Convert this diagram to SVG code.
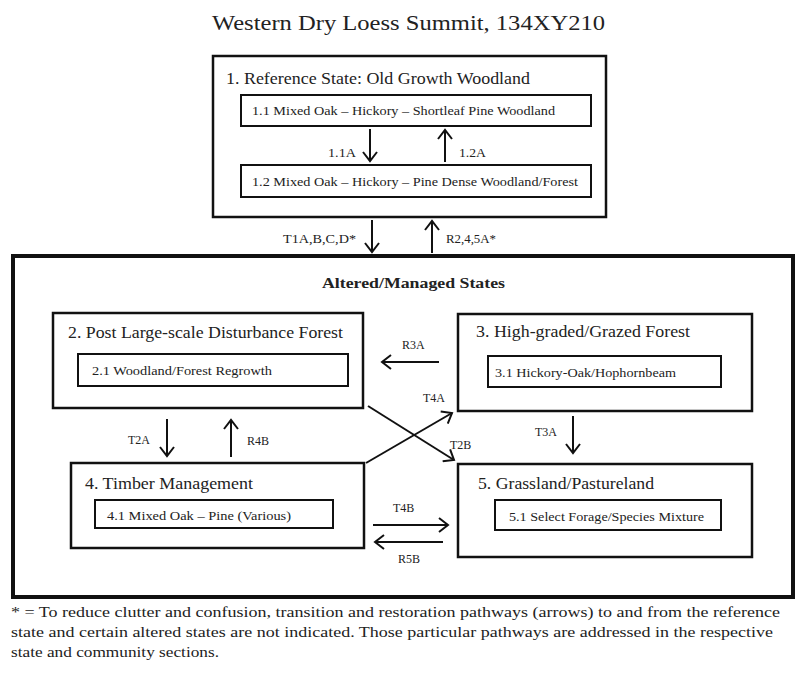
<svg xmlns="http://www.w3.org/2000/svg" width="800" height="680" viewBox="0 0 800 680" font-family="'Liberation Serif', 'DejaVu Serif', serif">
<defs>
<style>
text{font-family:'Liberation Serif','DejaVu Serif',serif;fill:#222}
.title{font-size:22px}
.st{font-size:17px}
.sub{font-size:13px}
.lbl{font-size:12px}
.box{fill:#fff;stroke:#111;stroke-width:2.5}
.inner{fill:#fff;stroke:#111;stroke-width:2}
.arr{fill:none;stroke:#111;stroke-width:2;marker-end:url(#ah)}
.foot{font-size:15px}
</style>
<marker id="ah" markerUnits="userSpaceOnUse" viewBox="-10 -8 12 16" refX="0" refY="0" markerWidth="12" markerHeight="16" orient="auto">
<path d="M-9,-7 L0,0 L-9,7" fill="none" stroke="#111" stroke-width="2"/>
</marker>
</defs>
<rect width="800" height="680" fill="#fff"/>
<text class="title" x="212" y="30" textLength="393" lengthAdjust="spacingAndGlyphs">Western Dry Loess Summit, 134XY210</text>

<g id="outer-altered">
<rect x="13" y="256" width="780" height="341" fill="#fff" stroke="#111" stroke-width="4"/>
<text x="322" y="288" textLength="183" lengthAdjust="spacingAndGlyphs" style="font-size:14px;font-weight:bold">Altered/Managed States</text>
</g>

<g id="state1">
<rect class="box" x="213" y="56" width="393" height="161"/>
<text class="st" x="226" y="84" textLength="304" lengthAdjust="spacingAndGlyphs">1. Reference State: Old Growth Woodland</text>
</g>
<g id="c11">
<rect class="inner" x="241" y="95" width="350" height="31"/>
<text class="sub" x="252" y="115" textLength="303" lengthAdjust="spacingAndGlyphs">1.1 Mixed Oak – Hickory – Shortleaf Pine Woodland</text>
</g>
<g id="c12">
<rect class="inner" x="241" y="165" width="350" height="32"/>
<text class="sub" x="252" y="186" textLength="326" lengthAdjust="spacingAndGlyphs">1.2 Mixed Oak – Hickory – Pine Dense Woodland/Forest</text>
</g>

<g id="state2">
<rect class="box" x="53" y="313" width="310" height="95"/>
<text class="st" x="68" y="338" textLength="275" lengthAdjust="spacingAndGlyphs">2. Post Large-scale Disturbance Forest</text>
<rect class="inner" x="78" y="354" width="270" height="32"/>
<text class="sub" x="92" y="375" textLength="180" lengthAdjust="spacingAndGlyphs">2.1 Woodland/Forest Regrowth</text>
</g>

<g id="state3">
<rect class="box" x="458" y="314" width="294" height="97"/>
<text class="st" x="476" y="337" textLength="214" lengthAdjust="spacingAndGlyphs">3. High-graded/Grazed Forest</text>
<rect class="inner" x="488" y="356" width="233" height="31"/>
<text class="sub" x="495" y="377" textLength="181" lengthAdjust="spacingAndGlyphs">3.1 Hickory-Oak/Hophornbeam</text>
</g>

<g id="state4">
<rect class="box" x="71" y="463" width="293" height="85"/>
<text class="st" x="85" y="489" textLength="168" lengthAdjust="spacingAndGlyphs">4. Timber Management</text>
<rect class="inner" x="95" y="500" width="238" height="28"/>
<text class="sub" x="107" y="520" textLength="184" lengthAdjust="spacingAndGlyphs">4.1 Mixed Oak – Pine (Various)</text>
</g>

<g id="state5">
<rect class="box" x="458" y="464" width="294" height="93"/>
<text class="st" x="478" y="489" textLength="176" lengthAdjust="spacingAndGlyphs">5. Grassland/Pastureland</text>
<rect class="inner" x="495" y="500" width="226" height="30"/>
<text class="sub" x="509" y="521" textLength="195" lengthAdjust="spacingAndGlyphs">5.1 Select Forage/Species Mixture</text>
</g>

<g id="connectors">
<line class="arr" x1="370" y1="129" x2="370" y2="161"/>
<text class="lbl" x="328" y="157" textLength="28" lengthAdjust="spacingAndGlyphs">1.1A</text>
<line class="arr" x1="445" y1="162" x2="445" y2="130"/>
<text class="lbl" x="459" y="157" textLength="27" lengthAdjust="spacingAndGlyphs">1.2A</text>

<line class="arr" x1="372" y1="220" x2="372" y2="252"/>
<text class="lbl" x="283" y="243" textLength="73" lengthAdjust="spacingAndGlyphs">T1A,B,C,D*</text>
<line class="arr" x1="432" y1="253" x2="432" y2="221"/>
<text class="lbl" x="446" y="243" textLength="50" lengthAdjust="spacingAndGlyphs">R2,4,5A*</text>

<line class="arr" x1="439" y1="362" x2="382" y2="362"/>
<text class="lbl" x="402" y="349">R3A</text>

<line class="arr" x1="167" y1="419" x2="167" y2="456"/>
<text class="lbl" x="128" y="444">T2A</text>
<line class="arr" x1="231" y1="457" x2="231" y2="420"/>
<text class="lbl" x="247" y="445">R4B</text>

<line class="arr" x1="573" y1="416" x2="573" y2="453"/>
<text class="lbl" x="535" y="436">T3A</text>

<line class="arr" x1="368" y1="406" x2="454" y2="460"/>
<text class="lbl" x="450" y="449">T2B</text>
<line class="arr" x1="366" y1="463" x2="452" y2="413"/>
<text class="lbl" x="423" y="402">T4A</text>

<line class="arr" x1="373" y1="525" x2="448" y2="525"/>
<text class="lbl" x="393" y="512">T4B</text>
<line class="arr" x1="443" y1="542" x2="375" y2="542"/>
<text class="lbl" x="398" y="563">R5B</text>
</g>

<text class="foot" x="11" y="617" textLength="769" lengthAdjust="spacingAndGlyphs">* = To reduce clutter and confusion, transition and restoration pathways (arrows) to and from the reference</text>
<text class="foot" x="11" y="637" textLength="762" lengthAdjust="spacingAndGlyphs">state and certain altered states are not indicated. Those particular pathways are addressed in the respective</text>
<text class="foot" x="11" y="657" textLength="208" lengthAdjust="spacingAndGlyphs">state and community sections.</text>
</svg>
